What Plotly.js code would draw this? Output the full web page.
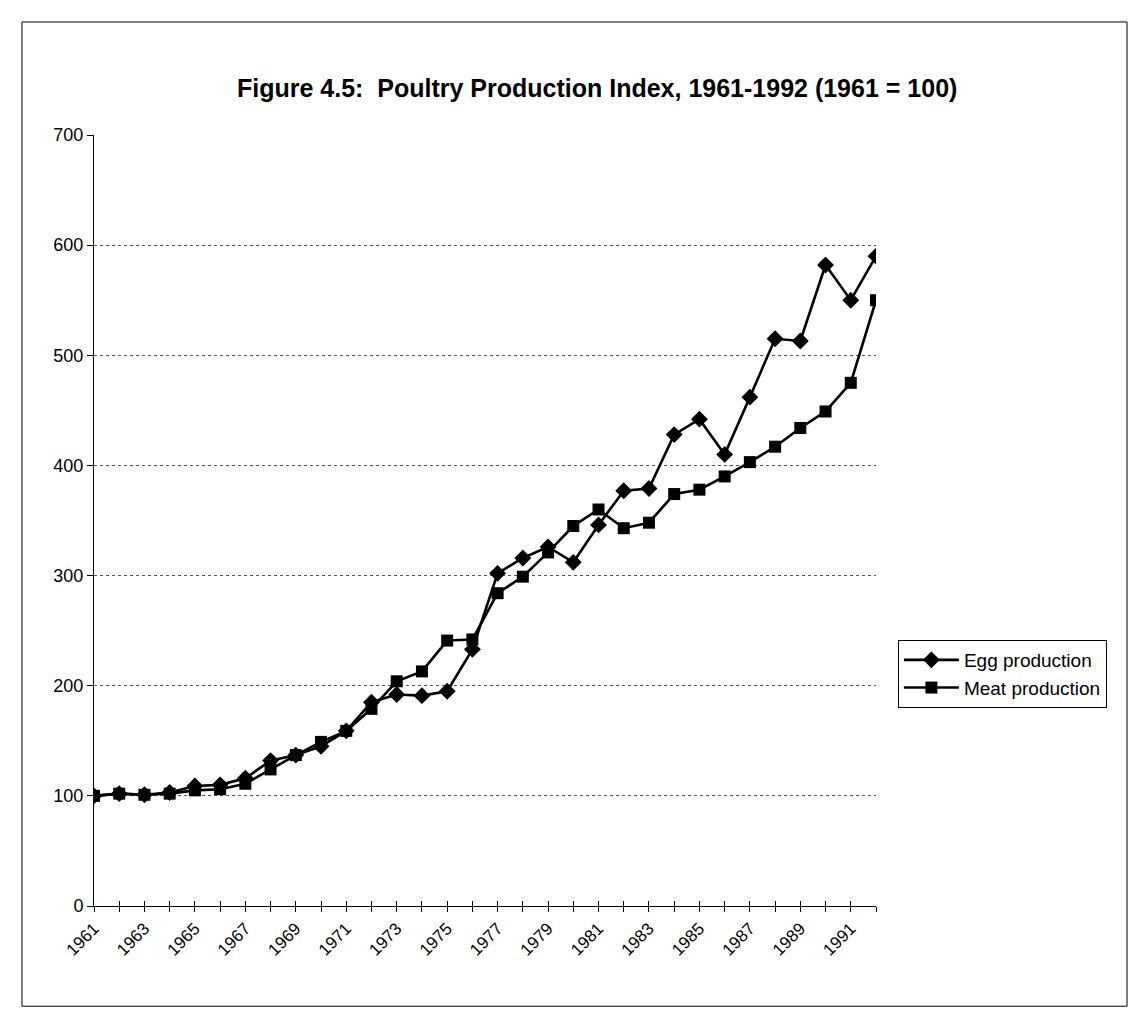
<!DOCTYPE html>
<html>
<head>
<meta charset="utf-8">
<script src="https://cdn.plot.ly/plotly-3.0.1.min.js"></script>
<style>
  html, body { margin: 0; padding: 0; background: #fff; }
  #chart { width: 1131px; height: 1015px; }
</style>
</head>
<body>
<div id="chart"></div>
<script>
// ---- Data ----
const years = [1961,1962,1963,1964,1965,1966,1967,1968,1969,1970,1971,1972,1973,1974,1975,1976,
               1977,1978,1979,1980,1981,1982,1983,1984,1985,1986,1987,1988,1989,1990,1991,1992];
const yearLabels = ['1961','','1963','','1965','','1967','','1969','','1971','','1973','','1975','',
                    '1977','','1979','','1981','','1983','','1985','','1987','','1989','','1991',''];
const eggProduction  = [100,102,101,103,109,110,116,132,137,145,159,185,192,191,195,233,
                        302,316,326,312,346,377,379,428,442,410,462,515,513,582,550,590];
const meatProduction = [100,102,101,102,105,106,111,124,137,149,159,179,204,213,241,242,
                        284,299,321,345,360,343,348,374,378,390,403,417,434,449,475,550];
const yTicks = [0,100,200,300,400,500,600,700];

const FONT = 'Liberation Sans, Arial, sans-serif';

const traces = [
  {
    x: years, y: eggProduction, name: 'Egg production', type: 'scatter', mode: 'lines+markers',
    line: {color: '#000', width: 2.6},
    marker: {symbol: 'diamond', size: 13, color: '#000'}
  },
  {
    x: years, y: meatProduction, name: 'Meat production', type: 'scatter', mode: 'lines+markers',
    line: {color: '#000', width: 2.6},
    marker: {symbol: 'square', size: 12, color: '#000'}
  },
  {
    x: years, y: years.map(() => null), xaxis: 'x2', yaxis: 'y', showlegend: false,
    hoverinfo: 'skip', mode: 'lines'
  }
];

const layout = {
  width: 1131, height: 1015,
  paper_bgcolor: '#fff', plot_bgcolor: '#fff',
  margin: {l: 94, r: 255, t: 135, b: 109},
  font: {family: FONT, color: '#000', size: 17},
  title: {
    text: '<b>Figure 4.5:  Poultry Production Index, 1961-1992 (1961 = 100)</b>',
    font: {family: FONT, size: 25, color: '#000'},
    x: 0.528, xref: 'container', xanchor: 'center',
    y: 0.913, yref: 'container', yanchor: 'middle'
  },
  xaxis: {
    type: 'linear', range: [years[0], years[years.length - 1]],
    tickmode: 'array', tickvals: years, ticktext: yearLabels,
    tickangle: -45, ticks: 'outside', ticklen: 5, tickcolor: '#000', tickwidth: 1,
    showline: true, linecolor: '#000', linewidth: 1,
    showgrid: false, zeroline: false,
    tickfont: {family: FONT, size: 17, color: '#000'}
  },
  xaxis2: {
    type: 'linear', range: [years[0], years[years.length - 1]], overlaying: 'x', anchor: 'y',
    tickmode: 'array', tickvals: years, ticks: 'inside', ticklen: 5, tickcolor: '#000',
    showticklabels: false, showgrid: false, zeroline: false, showline: false
  },
  yaxis: {
    range: [0, 700], tickmode: 'array', tickvals: yTicks,
    ticks: 'outside', ticklen: 6, tickcolor: '#000',
    showline: true, linecolor: '#000', linewidth: 1,
    showgrid: true, gridcolor: '#555', griddash: 'dot', gridwidth: 1,
    zeroline: false,
    tickfont: {family: FONT, size: 18, color: '#000'}
  },
  showlegend: true,
  legend: {
    x: 1.028, xanchor: 'left', y: 0.345, yanchor: 'top',
    bordercolor: '#000', borderwidth: 1, bgcolor: '#fff',
    font: {family: FONT, size: 19, color: '#000'},
    itemwidth: 55, tracegroupgap: 0
  },
  shapes: [
    {type: 'rect', xref: 'paper', yref: 'paper', x0: -0.0921, x1: 1.321, y0: -0.13, y1: 1.1466,
     line: {color: '#000', width: 1}, fillcolor: 'rgba(0,0,0,0)', layer: 'below'}
  ]
};

Plotly.newPlot('chart', traces, layout, {displayModeBar: false, staticPlot: true});
</script>
</body>
</html>
